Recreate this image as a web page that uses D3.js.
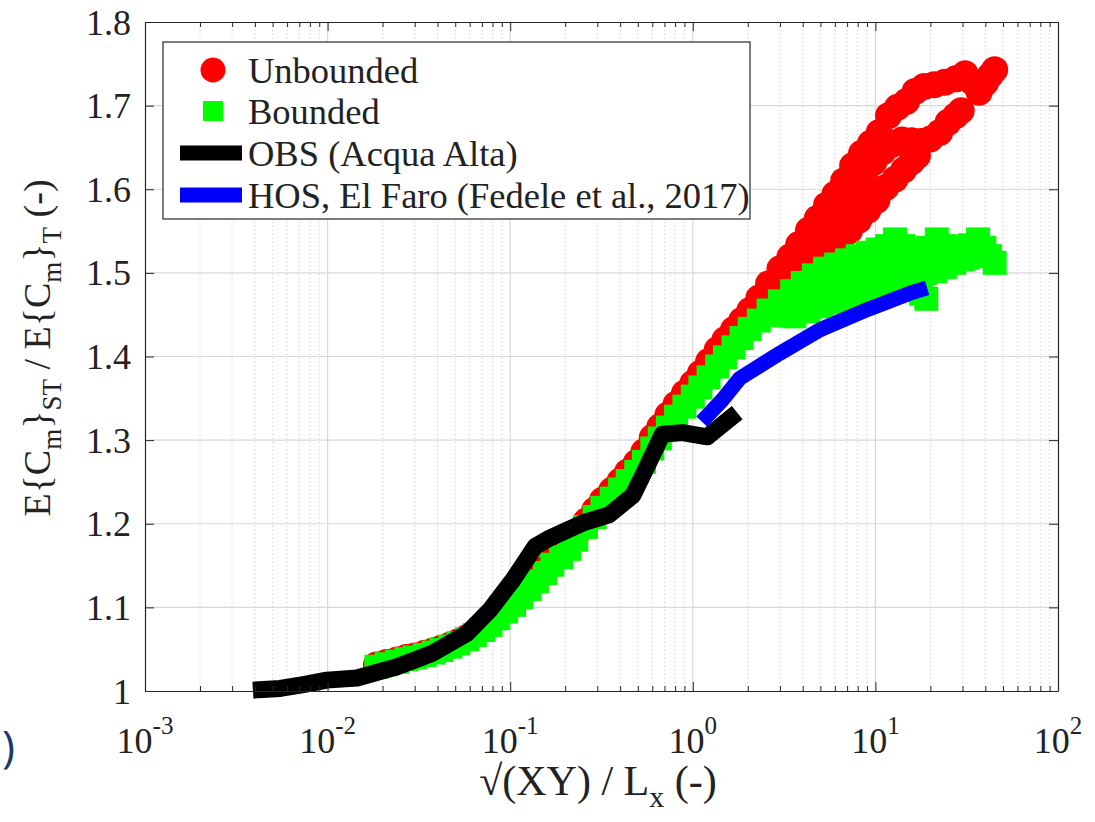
<!DOCTYPE html>
<html>
<head>
<meta charset="utf-8">
<script src="https://cdn.jsdelivr.net/npm/d3@7"></script>
<style>
  body { margin: 0; background: #fff; }
  svg { display: block; }
  text { font-family: "Liberation Serif", "Times New Roman", serif; fill: #222; }
</style>
</head>
<body>
<svg id="chart" width="1095" height="822"></svg>
<script>
// ---- data: [x, y] ----
// Unbounded (red circles): shared trunk + four branches at large x
const unboundedTrunk = [[0.0185,1.031],[0.021,1.034],[0.024,1.037],[0.027,1.040],[0.030,1.042],
  [0.034,1.045],[0.038,1.048],[0.042,1.051],[0.047,1.055],[0.052,1.059],[0.058,1.064],[0.064,1.069],
  [0.071,1.075],[0.078,1.082],[0.086,1.090],[0.095,1.099],[0.105,1.107],[0.115,1.116],[0.127,1.126],
  [0.14,1.136],[0.155,1.146],[0.17,1.156],[0.19,1.165],[0.21,1.176],[0.23,1.187],[0.26,1.203],[0.29,1.216],
  [0.32,1.228],[0.36,1.240],[0.40,1.251],[0.44,1.262],[0.49,1.273],[0.54,1.286],[0.60,1.303],[0.66,1.316],
  [0.73,1.330],[0.81,1.343],[0.90,1.356],[1.0,1.368],[1.1,1.380],[1.22,1.394],[1.36,1.408],[1.5,1.420],
  [1.67,1.432],[1.85,1.443],[2.05,1.455]];
const unboundedA = [[2.3,1.470],[2.6,1.487],[3.0,1.505],[3.4,1.519],[3.8,1.534],[4.3,1.551],[4.8,1.565],
  [5.4,1.581],[6.0,1.594],[6.7,1.610],[7.5,1.628],[8.4,1.643],[9.4,1.655],[10.5,1.668],[11.8,1.688],
  [13.2,1.698],[14.8,1.705],[16.5,1.717],[18.5,1.723],[21,1.725],[24,1.728],[27.5,1.732],[31,1.738],
  [34,1.728],[37,1.716],[40,1.727],[42.5,1.736],[45,1.743]];
const unboundedB = [[2.6,1.475],[3.0,1.490],[3.5,1.505],[4.0,1.518],[4.6,1.533],[5.2,1.546],[6.0,1.563],
  [6.8,1.580],[7.7,1.597],[8.7,1.615],[9.8,1.632],[11,1.645],[12.4,1.654],[14,1.659],[15.8,1.658],
  [17.8,1.657],[20,1.660],[22.5,1.668],[25,1.680],[27.5,1.688],[29.5,1.694]];
const unboundedC = [[3.2,1.485],[3.8,1.498],[4.4,1.510],[5.1,1.523],[5.9,1.537],[6.8,1.552],[7.8,1.566],
  [8.9,1.579],[10.1,1.591],[11.4,1.602],[12.8,1.612],[14.3,1.623],[15.8,1.633],[17,1.640]];
const unboundedD = [[3.6,1.490],[4.2,1.500],[4.9,1.511],[5.6,1.522],[6.4,1.536],[7.2,1.550],[8.1,1.563],
  [9.1,1.575],[10.2,1.587]];

// Bounded (green squares)
const boundedTrunk = [[0.0185,1.029],[0.021,1.032],[0.024,1.035],[0.027,1.038],[0.030,1.040],
  [0.034,1.043],[0.038,1.046],[0.042,1.049],[0.047,1.053],[0.052,1.057],[0.058,1.062],[0.064,1.067],
  [0.071,1.073],[0.078,1.079],[0.086,1.087],[0.095,1.095],[0.105,1.103],[0.115,1.112],[0.127,1.122],
  [0.14,1.131],[0.155,1.141],[0.17,1.151],[0.19,1.160],[0.21,1.170],[0.23,1.181],[0.26,1.196],[0.29,1.208],
  [0.32,1.219],[0.36,1.230],[0.40,1.241],[0.44,1.251],[0.49,1.262],[0.54,1.274],[0.60,1.290],[0.66,1.302],
  [0.73,1.315],[0.81,1.328],[0.90,1.340],[1.0,1.352],[1.1,1.363],[1.22,1.375],[1.36,1.388],[1.5,1.399],
  [1.67,1.411],[1.85,1.422],[2.05,1.433]];
const boundedA = [[2.3,1.443],[2.6,1.455],[3.0,1.466],[3.5,1.478],[4.0,1.488],[4.6,1.497],[5.3,1.505],
  [6.1,1.510],[7.0,1.515],[8.0,1.520],[9.1,1.524],[10.3,1.528],[11.6,1.532],[12.8,1.540],[14.2,1.532],
  [15.8,1.526],[17.5,1.527],[19.5,1.530],[21.7,1.540],[24,1.532],[26.5,1.528],[29.5,1.530],[33,1.533],
  [36.5,1.540],[39.5,1.530],[42.5,1.520],[45,1.512]];
const boundedB = [[2.8,1.450],[3.3,1.462],[3.9,1.472],[4.6,1.481],[5.4,1.489],[6.3,1.495],[7.3,1.500],
  [8.4,1.504],[9.7,1.507],[11.2,1.511],[12.8,1.513],[14.6,1.510],[16.6,1.505],[18.8,1.500],[21.2,1.502],
  [24,1.507],[27,1.512],[30,1.516],[32,1.518]];
const boundedC = [[3.2,1.449],[3.8,1.458],[4.5,1.465],[5.3,1.470],[6.2,1.473],[7.2,1.476],[8.3,1.480],
  [9.6,1.485],[11,1.489],[12.6,1.492],[14.4,1.490],[16.2,1.482],[17.8,1.475],[19,1.469]];
const boundedD = [[3.6,1.448],[4.3,1.454],[5.1,1.460],[6.0,1.465],[6.8,1.469],[7.8,1.473],[8.9,1.477],
  [10,1.480]];

// OBS (Acqua Alta), black line
const obsLine = [[0.0039,1.001],[0.0055,1.003],[0.0075,1.008],[0.0099,1.013],[0.0145,1.0155],[0.024,1.029],
  [0.0378,1.0455],[0.058,1.069],[0.0775,1.097],[0.1036,1.133],[0.137,1.173],[0.165,1.183],[0.25,1.201],
  [0.35,1.211],[0.47,1.234],[0.56,1.268],[0.68,1.307],[0.88,1.309],[1.2,1.304],[1.75,1.333]];

// HOS, El Faro, blue line
const hosLine = [[1.12,1.322],[1.45,1.348],[1.81,1.374],[3.0,1.404],[4.97,1.432],[9.0,1.456],[16.1,1.477],[19.2,1.482]];

const xDecades = [1e-3, 1e-2, 1e-1, 1, 10, 100];
const xExponents = ["-3", "-2", "-1", "0", "1", "2"];
const yTicks = [1, 1.1, 1.2, 1.3, 1.4, 1.5, 1.6, 1.7, 1.8];

const legendItems = [
  { label: "Unbounded", type: "circle", color: "#ff0000" },
  { label: "Bounded", type: "square", color: "#00ff00" },
  { label: "OBS (Acqua Alta)", type: "line", color: "#000000" },
  { label: "HOS, El Faro (Fedele et al., 2017)", type: "line", color: "#0000ff" }
];

// ---- layout ----
const L = 145, R = 1058, T = 22, B = 691;
const svg = d3.select("#chart");

const x = d3.scaleLog().domain([1e-3, 1e2]).range([L, R]);
const y = d3.scaleLinear().domain([1, 1.8]).range([B, T]);

let xMinor = [];
xDecades.slice(0, -1).forEach(d => { for (let k = 2; k < 10; k++) xMinor.push(d * k); });

// grid
let grid = svg.append("g");
grid.selectAll(".gminor").data(xMinor).enter().append("line")
  .attr("x1", d => x(d)).attr("x2", d => x(d)).attr("y1", T).attr("y2", B)
  .attr("stroke", "#c4c4c4").attr("stroke-width", 1).attr("stroke-dasharray", "1,3");
grid.selectAll(".gmajx").data(xDecades.slice(1, -1)).enter().append("line")
  .attr("x1", d => x(d)).attr("x2", d => x(d)).attr("y1", T).attr("y2", B)
  .attr("stroke", "#d8d8d8").attr("stroke-width", 1.2);
grid.selectAll(".gmajy").data(yTicks.slice(1, -1)).enter().append("line")
  .attr("x1", L).attr("x2", R).attr("y1", d => y(d)).attr("y2", d => y(d))
  .attr("stroke", "#d8d8d8").attr("stroke-width", 1.2);

// markers
const RAD = 13.5, SQ = 24;
let marks = svg.append("g");
[unboundedTrunk, unboundedD, unboundedC, unboundedB, unboundedA].forEach(series => {
  marks.append("g").selectAll("circle").data(series).enter().append("circle")
    .attr("cx", d => x(d[0])).attr("cy", d => y(d[1])).attr("r", RAD)
    .attr("fill", "#ff0000");
});
[boundedTrunk, boundedD, boundedC, boundedB, boundedA].forEach(series => {
  marks.append("g").selectAll("rect").data(series).enter().append("rect")
    .attr("x", d => x(d[0]) - SQ / 2).attr("y", d => y(d[1]) - SQ / 2)
    .attr("width", SQ).attr("height", SQ)
    .attr("fill", "#00ff00");
});

// lines
const line = d3.line().x(d => x(d[0])).y(d => y(d[1]));
svg.append("path").datum(obsLine).attr("d", line)
  .attr("fill", "none").attr("stroke", "#000").attr("stroke-width", 17)
  .attr("stroke-linejoin", "round").attr("stroke-linecap", "butt");
svg.append("path").datum(hosLine).attr("d", line)
  .attr("fill", "none").attr("stroke", "#0000ff").attr("stroke-width", 15)
  .attr("stroke-linejoin", "round").attr("stroke-linecap", "butt");

// axes (ticks pointing inward, box on)
const axisColor = "#262626";
function styleAxis(g) {
  g.selectAll("path.domain").attr("stroke", axisColor).attr("stroke-width", 1.2);
  g.selectAll(".tick line").attr("stroke", axisColor).attr("stroke-width", 1);
  g.selectAll("text").remove();
}
svg.append("g").attr("transform", `translate(0,${B})`)
  .call(d3.axisBottom(x).tickValues(xDecades).tickSize(-9).tickSizeOuter(0)).call(styleAxis);
svg.append("g").attr("transform", `translate(0,${B})`)
  .call(d3.axisBottom(x).tickValues(xMinor).tickSize(-5)).call(styleAxis)
  .select("path.domain").remove();
svg.append("g").attr("transform", `translate(0,${T})`)
  .call(d3.axisTop(x).tickValues(xDecades).tickSize(-9).tickSizeOuter(0)).call(styleAxis);
svg.append("g").attr("transform", `translate(0,${T})`)
  .call(d3.axisTop(x).tickValues(xMinor).tickSize(-5)).call(styleAxis)
  .select("path.domain").remove();
svg.append("g").attr("transform", `translate(${L},0)`)
  .call(d3.axisLeft(y).tickValues(yTicks).tickSize(-9).tickSizeOuter(0)).call(styleAxis);
svg.append("g").attr("transform", `translate(${R},0)`)
  .call(d3.axisRight(y).tickValues(yTicks).tickSize(-9).tickSizeOuter(0)).call(styleAxis);

// tick labels
svg.append("g").selectAll("text").data(yTicks).enter().append("text")
  .attr("x", L - 14).attr("y", d => y(d)).attr("dy", "0.35em")
  .attr("text-anchor", "end").attr("font-size", 36)
  .text(d => d === 1 ? "1" : d.toFixed(1));

let xl = svg.append("g").selectAll("text").data(xDecades).enter().append("text")
  .attr("x", d => x(d)).attr("y", 753).attr("text-anchor", "middle").attr("font-size", 36);
xl.append("tspan").text("10");
xl.append("tspan").attr("dy", -19).attr("font-size", 25).text((d, i) => xExponents[i]);

// axis titles
let xt = svg.append("text").attr("x", 598).attr("y", 795).attr("text-anchor", "middle").attr("font-size", 42);
xt.append("tspan").text("\u221A(XY) / L");
xt.append("tspan").attr("dy", 12).attr("font-size", 30).text("x");
xt.append("tspan").attr("dy", -12).text(" (-)");

let yt = svg.append("text").attr("transform", "translate(50,348) rotate(-90)")
  .attr("text-anchor", "middle").attr("font-size", 38);
yt.append("tspan").text("E{C");
yt.append("tspan").attr("dy", 11).attr("font-size", 27).text("m");
yt.append("tspan").attr("dy", -11).text("}");
yt.append("tspan").attr("dy", 11).attr("font-size", 27).text("ST");
yt.append("tspan").attr("dy", -11).text(" / E{C");
yt.append("tspan").attr("dy", 11).attr("font-size", 27).text("m");
yt.append("tspan").attr("dy", -11).text("}");
yt.append("tspan").attr("dy", 11).attr("font-size", 27).text("T");
yt.append("tspan").attr("dy", -11).text(" (-)");

// legend
let lg = svg.append("g");
lg.append("rect").attr("x", 163).attr("y", 42).attr("width", 587).attr("height", 177)
  .attr("fill", "#fff").attr("stroke", axisColor).attr("stroke-width", 1.2);
const rowY = [70, 111, 153, 195];
legendItems.forEach((it, i) => {
  const cy = rowY[i];
  if (it.type === "circle") {
    lg.append("circle").attr("cx", 213).attr("cy", cy).attr("r", 12.5).attr("fill", it.color);
  } else if (it.type === "square") {
    lg.append("rect").attr("x", 203).attr("y", cy - 10).attr("width", 20).attr("height", 20).attr("fill", it.color);
  } else {
    lg.append("line").attr("x1", 180).attr("x2", 242).attr("y1", cy).attr("y2", cy)
      .attr("stroke", it.color).attr("stroke-width", 15);
  }
  lg.append("text").attr("x", 248).attr("y", cy).attr("dy", "0.35em").attr("font-size", 36.5).text(it.label);
});

// leftover glyph from the surrounding slide
svg.append("text").attr("x", 2).attr("y", 762).attr("font-size", 44)
  .style("font-family", "'Open Sans', sans-serif").style("fill", "#1d3a66").text(")");
</script>
</body>
</html>
